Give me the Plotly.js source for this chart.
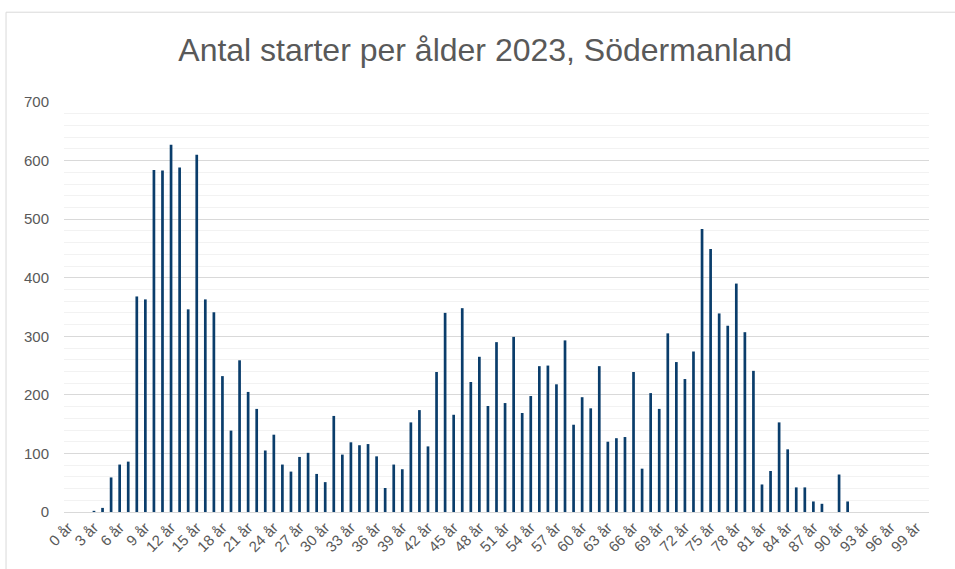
<!DOCTYPE html>
<html>
<head>
<meta charset="utf-8">
<script src="https://cdn.plot.ly/plotly-3.0.1.min.js"></script>
<style>html,body{margin:0;padding:0;background:#fff;}#chart{width:955px;height:569px;}</style>
</head>
<body>
<div id="chart"></div>
<script>
// Ages 0..100
const ages = Array.from({length: 101}, (_, i) => i + " år");
const starts = [
  0, 0, 0, 2, 7, 59, 81, 86, 368, 363,
  584, 583, 627, 588, 346, 610, 363, 341, 232, 139,
  259, 205, 176, 105, 132, 81, 69, 94, 101, 65,
  51, 164, 98, 119, 114, 116, 95, 41, 81, 73,
  153, 174, 112, 239, 340, 166, 348, 222, 265, 181,
  290, 186, 299, 169, 198, 249, 250, 218, 293, 149,
  196, 177, 249, 120, 126, 128, 239, 74, 203, 176,
  305, 256, 227, 274, 483, 449, 339, 318, 390, 307,
  241, 47, 70, 153, 107, 42, 42, 18, 14, 0,
  64, 18, 0, 0, 0, 0, 0, 0, 0, 0,
  0
];
const tickLabels = ages.filter((_, i) => i % 3 === 0 && i <= 99);
const chartTitle = "Antal starter per ålder 2023, Södermanland";

const trace = {
  type: 'bar',
  x: ages,
  y: starts,
  marker: {color: '#0a3d6b'},
  hoverinfo: 'x+y'
};

const layout = {
  width: 955, height: 569,
  margin: {l: 64, r: 26, t: 102, b: 57},
  paper_bgcolor: '#ffffff', plot_bgcolor: '#ffffff',
  font: {family: 'Liberation Sans, Arial, sans-serif', color: '#595959'},
  title: {text: chartTitle, font: {size: 32, color: '#595959'}, x: 0.508, xanchor: 'center', y: 0.913, yanchor: 'middle'},
  bargap: 0.685,
  showlegend: false,
  xaxis: {
    type: 'category',
    tickmode: 'array', tickvals: tickLabels, ticktext: tickLabels,
    tickangle: -45, tickfont: {size: 15, color: '#595959'},
    showgrid: false, showline: true, linecolor: '#d9d9d9', linewidth: 1,
    ticks: '', range: [-0.5, 100.5]
  },
  yaxis: {
    range: [0, 700], dtick: 100, tick0: 0,
    gridcolor: '#d9d9d9', gridwidth: 1,
    minor: {dtick: 20, showgrid: true, gridcolor: '#f2f2f2', gridwidth: 1},
    zeroline: true, zerolinecolor: '#d9d9d9',
    tickfont: {size: 15, color: '#595959'},
    ticks: '', ticklabelstandoff: 14
  },
  shapes: [
    {type: 'line', xref: 'paper', yref: 'paper', x0: -0.067, x1: -0.067, y0: 1.219, y1: -0.5, line: {color: '#d9d9d9', width: 1}},
    {type: 'line', xref: 'paper', yref: 'paper', x0: -0.067, x1: 1.2, y0: 1.219, y1: 1.219, line: {color: '#d9d9d9', width: 1}}
  ]
};

Plotly.newPlot('chart', [trace], layout, {displayModeBar: false, staticPlot: true});
</script>
</body>
</html>
